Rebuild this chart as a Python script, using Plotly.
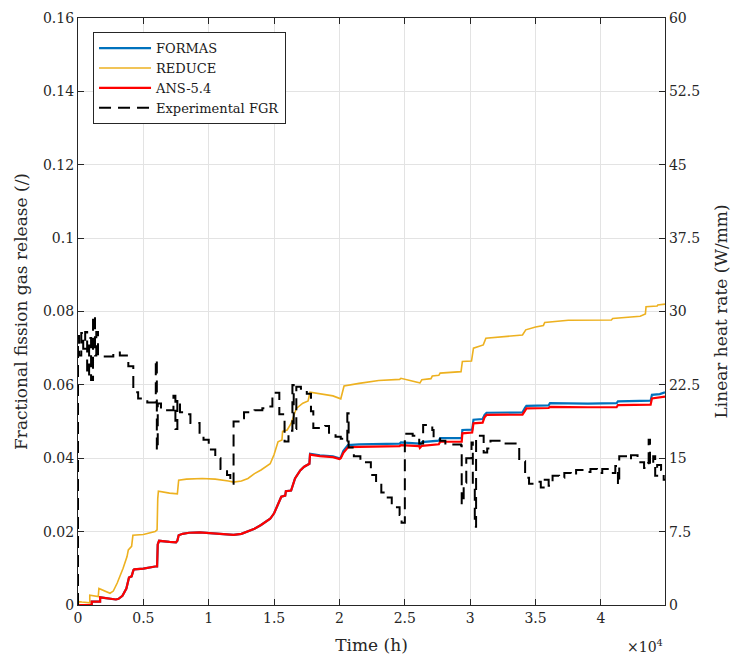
import plotly.graph_objects as go

# ---------------- data (time in h) ----------------
time_formas = [0, 1050, 1050, 1690, 1690, 2300, 2600, 2900, 3100, 3400, 3700, 3850, 3900, 4100, 4150, 4240,
               4300, 5000, 5900, 6050, 6100, 6200, 7000, 7500, 7600, 7700, 8000, 8500, 9300, 10000, 11000,
               11900, 12500, 13000, 13500, 14000, 14700, 15000, 15300, 15500, 15550, 15850, 15900, 16300,
               16400, 16600, 17000, 17300, 17700, 17750, 18500, 19500, 20000, 20100, 20300, 20500, 20650,
               21500, 22500, 24600, 24700, 26100, 26150, 26300, 27600, 27700, 29350, 29400, 30150, 30250,
               30950, 31100, 31250, 34000, 34200, 34300, 36000, 36100, 39000, 41200, 41300, 43800, 43900,
               44500, 44900]
fgr_formas = [0, 0, 0.0009, 0.0009, 0.0021, 0.0019, 0.0016, 0.0015, 0.0017, 0.0025, 0.0045, 0.0065, 0.0075,
              0.0078, 0.0088, 0.0095, 0.0097, 0.0099, 0.0105, 0.0105, 0.0165, 0.0175, 0.0172, 0.0171, 0.0175,
              0.019, 0.0194, 0.0197, 0.0198, 0.0196, 0.0193, 0.0191, 0.0194, 0.0200, 0.0208, 0.0218, 0.0235,
              0.025, 0.0275, 0.0288, 0.0295, 0.0298, 0.031, 0.0312, 0.0325, 0.0345, 0.0367, 0.0377, 0.0385,
              0.0412, 0.0408, 0.0405, 0.0400, 0.0402, 0.0420, 0.0428, 0.0436, 0.0438, 0.0439, 0.0440, 0.0443,
              0.0440, 0.0436, 0.0444, 0.0448, 0.0455, 0.0455, 0.0477, 0.0478, 0.0505, 0.0507, 0.0518, 0.0524,
              0.0525, 0.0538, 0.0543, 0.0544, 0.0550, 0.0549, 0.0550, 0.0555, 0.0557, 0.0573, 0.0575, 0.0580]

time_reduce = [0, 60, 300, 900, 900, 1550, 1600, 2000, 2450, 2700, 3000, 3450, 3750, 3850, 4100, 4200, 5000,
               5900, 6050, 6100, 6150, 7000, 7600, 7700, 8300, 9500, 10500, 11500, 11900, 12500, 13000, 13500,
               14000, 14700, 15000, 15300, 15600, 15650, 16000, 16300, 16700, 17200, 17600, 17750, 18500,
               19500, 20100, 20200, 20350, 21500, 23000, 24600, 24700, 26100, 26150, 26300, 27000, 27100,
               27600, 27700, 29300, 29400, 30100, 30250, 31000, 31200, 34000, 34250, 35000, 35600, 35700,
               37500, 40800, 40900, 42300, 43000, 43400, 43450, 44300, 44350, 44900]
fgr_reduce = [0, 0.0009, 0.0008, 0.0006, 0.0027, 0.0023, 0.0045, 0.0038, 0.0032, 0.0038, 0.006, 0.0100,
              0.0132, 0.0150, 0.0160, 0.0190, 0.0192, 0.0200, 0.0205, 0.0290, 0.0310, 0.0305, 0.0303, 0.0340,
              0.0343, 0.0345, 0.0343, 0.0338, 0.0335, 0.0338, 0.0345, 0.0358, 0.0368, 0.0385, 0.0410, 0.0445,
              0.0450, 0.0473, 0.0477, 0.0495, 0.0536, 0.0550, 0.0556, 0.0580, 0.0575, 0.0570, 0.0562, 0.0575,
              0.0597, 0.0604, 0.0612, 0.0615, 0.0618, 0.0606, 0.0605, 0.0614, 0.0617, 0.0624, 0.0626, 0.0632,
              0.0636, 0.0664, 0.0665, 0.0700, 0.0709, 0.0727, 0.0736, 0.0750, 0.0758, 0.0762, 0.0770, 0.0776,
              0.0777, 0.0781, 0.0784, 0.0787, 0.0793, 0.0813, 0.0815, 0.0818, 0.0820]

time_ans = [0, 1050, 1050, 1690, 1690, 2300, 2600, 2900, 3100, 3400, 3700, 3850, 3900, 4100, 4150, 4240, 4300,
            5000, 5900, 6050, 6100, 6200, 7000, 7500, 7600, 7700, 8000, 8500, 9300, 10000, 11000, 11900,
            12500, 13000, 13500, 14000, 14700, 15000, 15300, 15500, 15550, 15850, 15900, 16300, 16400, 16600,
            17000, 17300, 17700, 17750, 18500, 19500, 20000, 20100, 20300, 20500, 20650, 21500, 22500, 24600,
            24700, 26100, 26150, 26300, 27600, 27700, 29350, 29400, 30150, 30250, 30950, 31100, 31250, 34000,
            34200, 34300, 36000, 36100, 39000, 41200, 41300, 43800, 43900, 44500, 44900]
fgr_ans = [0, 0, 0.0009, 0.0009, 0.0021, 0.0019, 0.0016, 0.0015, 0.0017, 0.0025, 0.0045, 0.0065, 0.0075,
           0.0078, 0.0088, 0.0095, 0.0097, 0.0099, 0.0105, 0.0105, 0.0165, 0.0175, 0.0172, 0.0171, 0.0175,
           0.019, 0.0194, 0.0197, 0.0198, 0.0196, 0.0193, 0.0191, 0.0194, 0.0200, 0.0208, 0.0218, 0.0235,
           0.025, 0.0275, 0.0288, 0.0295, 0.0298, 0.031, 0.0312, 0.0325, 0.0345, 0.0367, 0.0377, 0.0385,
           0.0410, 0.0406, 0.0403, 0.0398, 0.0400, 0.0415, 0.0422, 0.0430, 0.0431, 0.0432, 0.0433, 0.0436,
           0.0433, 0.0428, 0.0434, 0.0438, 0.0445, 0.0445, 0.0468, 0.0470, 0.0495, 0.0497, 0.0512, 0.0518,
           0.0519, 0.0530, 0.0536, 0.0537, 0.0540, 0.0539, 0.0539, 0.0545, 0.0546, 0.0563, 0.0565, 0.0568]

power_time = [0, 0, 80, 250, 400, 550, 700, 850, 1000, 1150, 1300, 1400, 1530, 2700, 3200, 3850, 4230, 4600,
              5300, 5950, 6030, 6100, 6350, 6700, 7300, 7450, 7600, 7800, 8300, 8600, 9300, 9600, 10000,
              10500, 10900, 11400, 11650, 11900, 12500, 12700, 13500, 14100, 14600, 14870, 15400, 15800,
              16100, 16400, 16500, 16700, 17050, 17500, 17820, 18000, 18900, 19200, 19700, 20100, 20500,
              20600, 20700, 21100, 21600, 22400, 22800, 23200, 23600, 24000, 24600, 24750, 25000, 25600,
              26100, 26400, 27100, 27200, 27700, 28100, 29300, 29350, 29500, 29700, 30100, 30200, 30350,
              30450, 31030, 31300, 31550, 32600, 33750, 34200, 34500, 35100, 35400, 35700, 36000, 36300,
              36800, 37200, 37700, 38100, 38800, 39200, 39700, 40100, 40700, 41100, 41300, 41400, 42000,
              42300, 42800, 43300, 43600, 43650, 43750, 44000, 44150, 44300, 44600, 44800, 45000]
power_wmm = [0, 27.5, 25.5, 27.8, 26.2, 27.9, 23.4, 27.3, 23.0, 29.6, 25.5, 27.9, 25.4, 25.8, 25.5, 24.4,
             21.75, 21.1, 20.7, 25.1, 15.8, 20.6, 20.2, 19.9, 21.4, 18.0, 21.0, 19.7, 19.5, 18.6, 17.6, 16.9,
             15.9, 15.0, 13.9, 13.3, 12.4, 18.75, 19.1, 19.7, 19.9, 20.1, 20.3, 21.7, 19.5, 16.7, 17.8, 22.5,
             18.0, 22.3, 22.1, 21.6, 19.8, 18.1, 18.3, 17.6, 17.2, 17.0, 16.7, 19.6, 16.1, 15.2, 14.6, 13.3,
             12.5, 11.5, 11.0, 10.0, 9.2, 8.4, 17.5, 17.3, 16.5, 18.4, 17.9, 17.1, 16.8, 16.4, 16.3, 10.3,
             12.5, 15.0, 16.6, 12.0, 8.0, 17.3, 15.6, 16.0, 16.8, 16.5, 14.7, 13.0, 12.4, 12.6, 12.0, 12.8,
             12.2, 13.2, 13.0, 13.5, 13.3, 13.8, 13.6, 13.9, 13.5, 13.9, 13.5, 14.2, 12.3, 15.2, 14.9, 15.3,
             14.6, 14.0, 14.5, 16.9, 14.3, 15.2, 13.2, 14.3, 13.8, 12.8, 12.8]

x_tick_vals = [0, 5000, 10000, 15000, 20000, 25000, 30000, 35000, 40000]
x_tick_text = ["0", "0.5", "1", "1.5", "2", "2.5", "3", "3.5", "4"]
y_tick_vals = [0, 0.02, 0.04, 0.06, 0.08, 0.10, 0.12, 0.14, 0.16]
y_tick_text = ["0", "0.02", "0.04", "0.06", "0.08", "0.1", "0.12", "0.14", "0.16"]
y2_tick_vals = [0, 7.5, 15, 22.5, 30, 37.5, 45, 52.5, 60]
y2_tick_text = ["0", "7.5", "15", "22.5", "30", "37.5", "45", "52.5", "60"]

FONT = "DejaVu Serif"
AX = "#262626"
GRID = "#e3e3e3"

fig = go.Figure()
fig.add_trace(go.Scatter(x=time_formas, y=fgr_formas, mode="lines", name="FORMAS",
                         line=dict(color="#0072BD", width=2.2)))
fig.add_trace(go.Scatter(x=time_reduce, y=fgr_reduce, mode="lines", name="REDUCE",
                         line=dict(color="#EDB120", width=1.6)))
fig.add_trace(go.Scatter(x=time_ans, y=fgr_ans, mode="lines", name="ANS-5.4",
                         line=dict(color="#FF0000", width=2.2)))
fig.add_trace(go.Scatter(x=power_time, y=power_wmm, mode="lines", name="Experimental FGR", yaxis="y2",
                         line=dict(color="black", width=2, dash="12px,7px", shape="hv")))

fig.update_layout(
    width=731, height=660,
    margin=dict(l=78, r=66, t=18, b=55),
    paper_bgcolor="white", plot_bgcolor="white",
    font=dict(family=FONT, size=14, color="#262626"),
    showlegend=True,
    legend=dict(x=0.0256, y=0.976, xanchor="left", yanchor="top",
                bordercolor=AX, borderwidth=1, bgcolor="white",
                font=dict(family=FONT, size=13, color="#1a1a1a"),
                itemwidth=52, tracegroupgap=0),
    xaxis=dict(range=[0, 44900], tickvals=x_tick_vals, ticktext=x_tick_text, automargin=False,
               ticks="inside", ticklen=6, tickcolor=AX, showline=True, linecolor=AX, linewidth=1.2,
               mirror="ticks", showgrid=True, gridcolor=GRID, gridwidth=1, zeroline=False,
               tickfont=dict(family=FONT, size=14),
               title=dict(text="Time (h)", font=dict(family=FONT, size=17), standoff=14)),
    yaxis=dict(range=[0, 0.16], tickvals=y_tick_vals, ticktext=y_tick_text, automargin=False,
               ticks="inside", ticklen=6, tickcolor=AX, showline=True, linecolor=AX, linewidth=1.2,
               showgrid=True, gridcolor=GRID, gridwidth=1, zeroline=False,
               tickfont=dict(family=FONT, size=14),
               title=dict(text="Fractional fission gas release (/)", font=dict(family=FONT, size=17),
                          standoff=10)),
    yaxis2=dict(range=[0, 60], tickvals=y2_tick_vals, ticktext=y2_tick_text, overlaying="y", side="right",
                automargin=False,
                ticks="inside", ticklen=6, tickcolor=AX, showline=True, linecolor=AX, linewidth=1.2,
                showgrid=False, zeroline=False,
                tickfont=dict(family=FONT, size=14),
                title=dict(text="Linear heat rate (W/mm)", font=dict(family=FONT, size=17), standoff=16)),
)

fig.add_annotation(text="×10<sup>4</sup>", xref="paper", yref="paper", x=1.0, y=-0.07,
                   xanchor="right", yanchor="middle", showarrow=False,
                   font=dict(family=FONT, size=14, color="#262626"))

fig.write_html("out.html")
